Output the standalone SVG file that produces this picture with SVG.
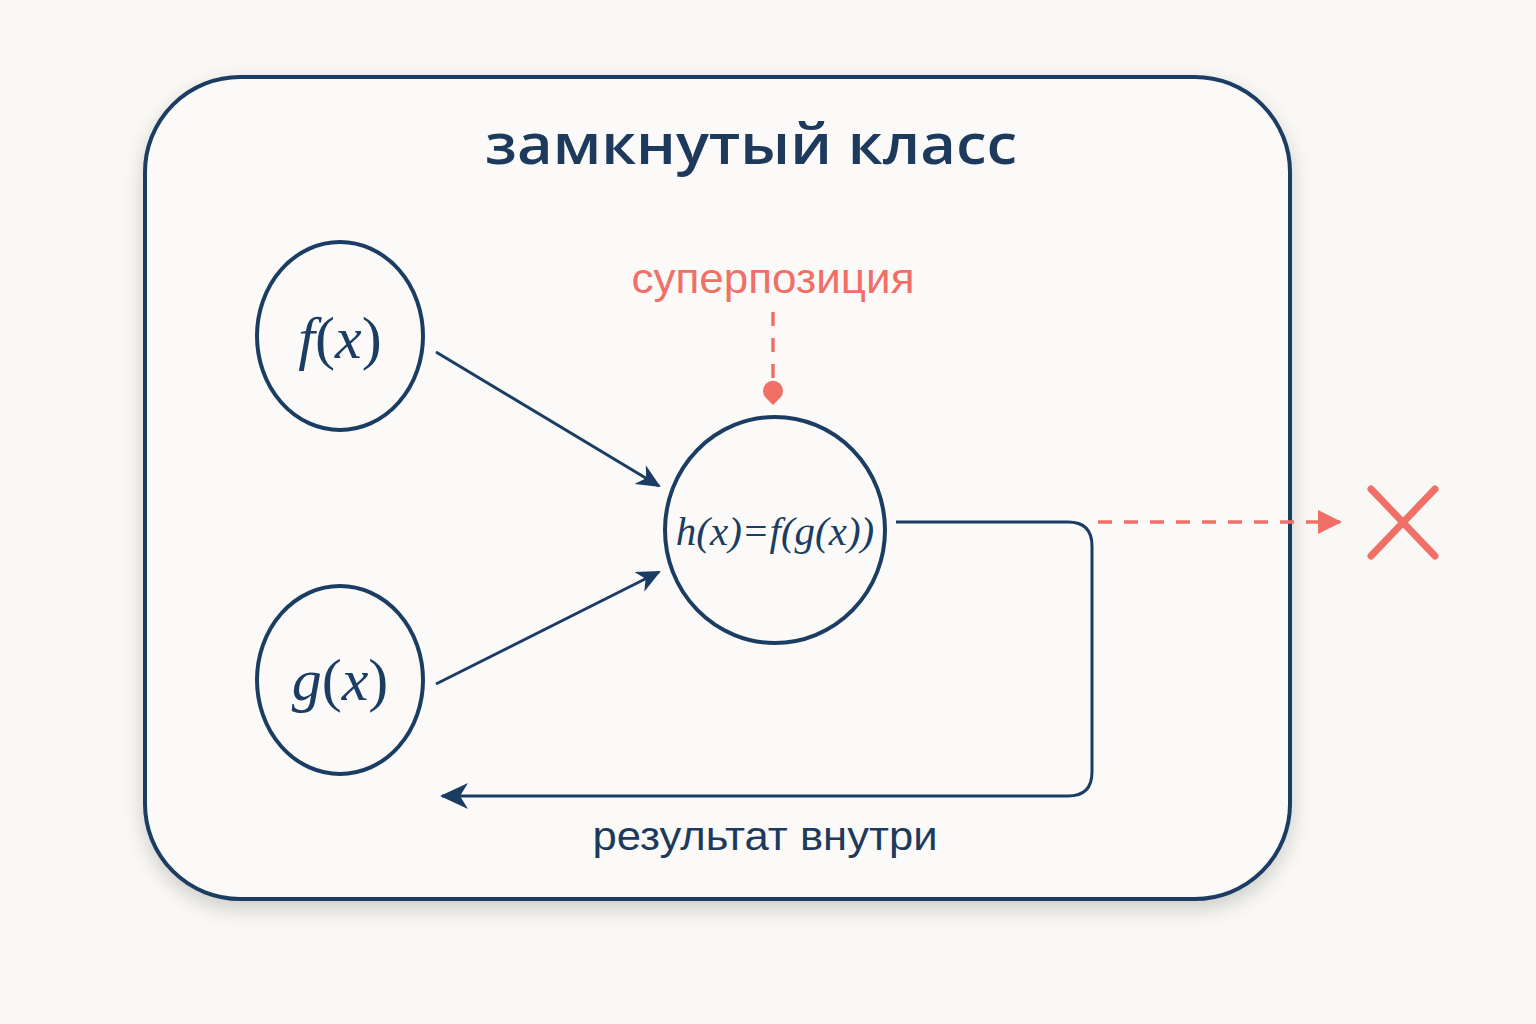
<svg xmlns="http://www.w3.org/2000/svg" width="1536" height="1024" viewBox="0 0 1536 1024">
<defs>
<filter id="sh" x="-10%" y="-10%" width="120%" height="120%">
<feGaussianBlur in="SourceAlpha" stdDeviation="10"/>
<feOffset dx="0" dy="8"/>
<feComponentTransfer><feFuncA type="linear" slope="0.18"/></feComponentTransfer>
<feMerge><feMergeNode/><feMergeNode in="SourceGraphic"/></feMerge>
</filter>
<marker id="ah" viewBox="0 0 24 24" refX="22" refY="12" markerWidth="24" markerHeight="24" markerUnits="userSpaceOnUse" orient="auto">
<path d="M0,1 L24,12 L0,23 L7,12 Z" fill="#1b3d63"/>
</marker>
<marker id="ahl" viewBox="0 0 28 28" refX="26" refY="14" markerWidth="28" markerHeight="28" markerUnits="userSpaceOnUse" orient="auto">
<path d="M0,1 L28,14 L0,27 L8,14 Z" fill="#1b3d63"/>
</marker>
<marker id="ahr" viewBox="0 0 26 26" refX="24" refY="13" markerWidth="26" markerHeight="26" markerUnits="userSpaceOnUse" orient="auto">
<path d="M2,1 L26,13 L2,25 Z" fill="#f07068"/>
</marker>
</defs>
<style>
.n{fill:#fbfaf8;stroke:#1b3d63;stroke-width:4}
.c{fill:none;stroke:#1b3d63;stroke-width:3}
.r{fill:none;stroke:#f07068;stroke-width:3.5;stroke-dasharray:14 12}
.m{font-family:"Liberation Serif","DejaVu Serif",serif;fill:#1b3d63}
.i{font-style:italic}
.s{font-family:"Liberation Sans","DejaVu Sans",sans-serif}
</style>
<rect width="1536" height="1024" fill="#f9f8f5"/>
<g id="class">
<rect x="145" y="77" width="1145" height="822" rx="95" ry="95" fill="#fbfaf8" stroke="#1b3d63" stroke-width="4" filter="url(#sh)"/>
<text x="751" y="164" text-anchor="middle" font-family="'Open Sans','Liberation Sans',sans-serif" font-size="56" font-weight="600" fill="#1d3a5c" textLength="532" lengthAdjust="spacingAndGlyphs">замкнутый класс</text>
</g>
<g id="connectors">
<line x1="436" y1="352" x2="659" y2="486" class="c" marker-end="url(#ah)"/>
<line x1="436" y1="684" x2="659" y2="572" class="c" marker-end="url(#ah)"/>
<path d="M896,522 L1068,522 Q1092,522 1092,546 L1092,772 Q1092,796 1068,796 L442,796" class="c" marker-end="url(#ahl)"/>
<line x1="1098" y1="522" x2="1340" y2="522" class="r" marker-end="url(#ahr)"/>
<line x1="773" y1="312" x2="773" y2="386" class="r" stroke-dasharray="14 10"/>
<path d="M773,405 L766,398 A10,10 0 1 1 780,398 Z" fill="#f07068"/>
</g>
<g id="f">
<ellipse cx="340" cy="336" rx="83" ry="94" class="n"/>
<text x="340" y="358" text-anchor="middle" class="m" font-size="60"><tspan class="i">f</tspan>(<tspan class="i">x</tspan>)</text>
</g>
<g id="g">
<ellipse cx="340" cy="680" rx="83" ry="94" class="n"/>
<text x="340" y="700" text-anchor="middle" class="m" font-size="60"><tspan class="i">g</tspan>(<tspan class="i">x</tspan>)</text>
</g>
<g id="h">
<ellipse cx="775" cy="530" rx="110" ry="113" class="n"/>
<text x="775" y="545" text-anchor="middle" class="m i" font-size="41">h(x)=f(g(x))</text>
</g>
<g id="superposition">
<text x="773" y="293" text-anchor="middle" class="s" font-size="42" fill="#f07068" textLength="283" lengthAdjust="spacingAndGlyphs">суперпозиция</text>
</g>
<g id="result-label">
<text x="765" y="850" text-anchor="middle" class="s" font-size="40" fill="#1d3a5c" textLength="345" lengthAdjust="spacingAndGlyphs">результат внутри</text>
</g>
<g id="cross">
<path d="M1371,489 L1435,556 M1435,489 L1371,556" stroke="#f07068" stroke-width="7" stroke-linecap="round" fill="none"/>
</g>
</svg>
